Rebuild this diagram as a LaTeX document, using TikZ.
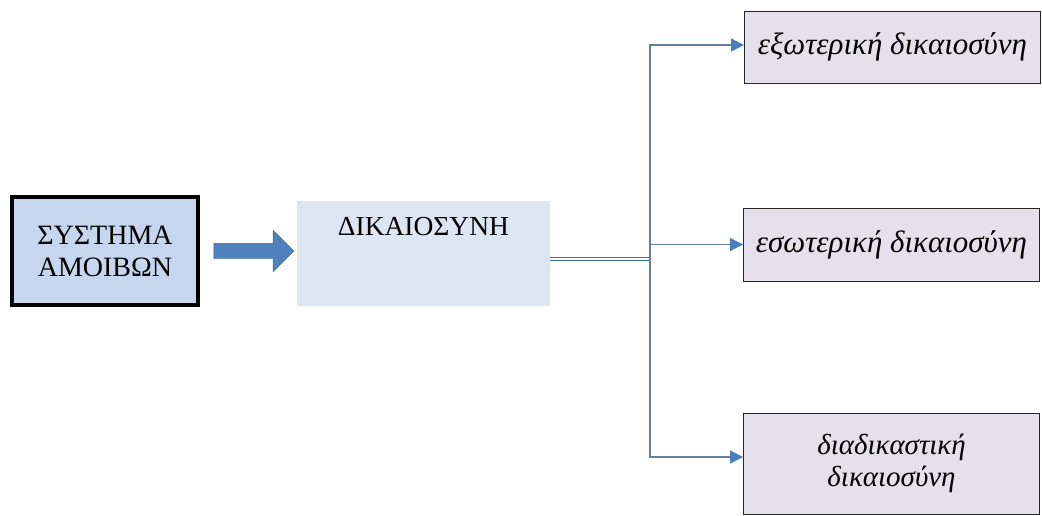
\documentclass[tikz,border=0pt]{standalone}
\usepackage{fontspec}
\setmainfont{Liberation Serif}
\usepackage{tikz}
\usetikzlibrary{shapes.arrows, arrows.meta}
\usepackage{xcolor}
\definecolor{pay_fill}{HTML}{C6D6EE}
\definecolor{justice_fill}{HTML}{DCE6F2}
\definecolor{kind_fill}{HTML}{E5E0EC}
\definecolor{arrow_fill}{HTML}{4F81BD}
\definecolor{tip_blue}{HTML}{4A7EBB}
\colorlet{branch_line}{tip_blue!55!gray}
\colorlet{trunk_line}{tip_blue!85!black}

\begin{document}
\begin{tikzpicture}[
    x=1pt, y=-1pt,
    pay-box/.style={draw=black, line width=4pt, fill=pay_fill, minimum width=186pt,
      minimum height=108pt, align=center, font=\fontsize{28}{32}\selectfont},
    justice-box/.style={fill=justice_fill, minimum width=253pt, minimum height=105pt},
    justice-label/.style={font=\fontsize{27.5}{32}\selectfont},
    kind-box/.style={draw=black!85, line width=0.9pt, fill=kind_fill, minimum width=296pt,
      align=center, font=\itshape\fontsize{31}{32}\selectfont},
    block-arrow/.style={single arrow, fill=arrow_fill, draw=arrow_fill!80!black, line width=0.4pt,
      inner sep=0pt, text height=15pt, text depth=0pt, single arrow head extend=13pt,
      minimum height=80pt},
    branch/.style={color=branch_line, line width=1.1pt,
      -{Triangle[length=13pt, width=13pt, color=tip_blue]}},
    trunk/.style={color=trunk_line, line width=1.4pt, double=white, double distance=1.3pt},
  ]
  \fill[white] (0,0) rectangle (1042,515);
  \useasboundingbox (0,0) rectangle (1042,515);

  %%%%%%%%%% Boxes %%%%%%%%%%
  \node[pay-box] (payment) at (105,251) {ΣΥΣΤΗΜΑ\\ΑΜΟΙΒΩΝ};
  \node[block-arrow] (push) at (250,251) {};
  \node[justice-box, label={[justice-label, anchor=center, yshift=-26pt]north:ΔΙΚΑΙΟΣΥΝΗ}]
    (justice) at (423.5,253.5) {};

  \node[kind-box, minimum height=72pt] (external) at (892.5,47) {εξωτερική δικαιοσύνη};
  \node[kind-box, minimum height=73pt] (internal) at (891.5,244.5) {εσωτερική δικαιοσύνη};
  \node[kind-box, minimum height=101pt, font=\itshape\fontsize{29}{32}\selectfont]
    (procedural) at (891.5,463.5) {διαδικαστική\\δικαιοσύνη};

  %%%%%%%%%% Connectors %%%%%%%%%%
  \coordinate (fork) at (650,259);
  \draw[trunk] ([yshift=-5.5pt]justice.east) -- (fork);
  \draw[branch] (fork) |- ([yshift=2pt]external.west);
  \draw[branch] (fork |- internal.west) -- (internal.west);
  \draw[branch] (fork) |- ([yshift=6.5pt]procedural.west);

\end{tikzpicture}
\end{document}
